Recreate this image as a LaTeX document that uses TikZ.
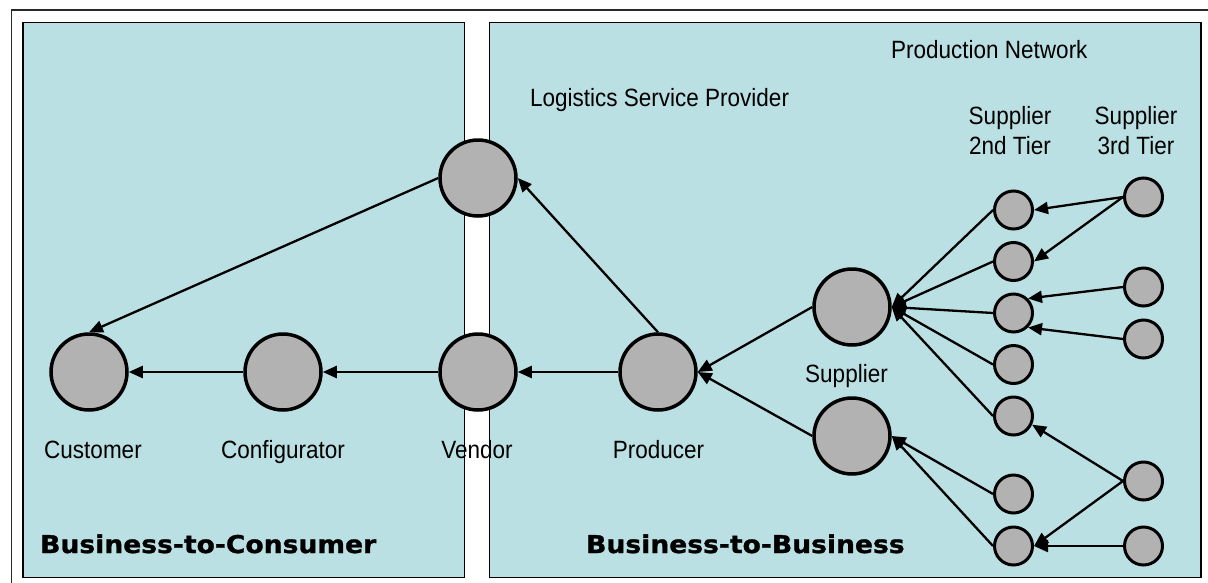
\documentclass[tikz,border=0pt]{standalone}
\usepackage{fontspec}
\setmainfont{Liberation Sans}[FakeStretch=0.9]
\newfontfamily\headfont{DejaVu Sans}[FakeStretch=1.085, BoldFeatures={FakeBold=1.2}]
\usetikzlibrary{arrows.meta}

\definecolor{panelfill}{RGB}{187,224,227}
\definecolor{nodegray}{RGB}{178,178,178}
\definecolor{framegray}{RGB}{40,40,40}

\tikzset{
  panel/.style={draw=black, line width=1.3pt, fill=panelfill},
  bignode/.style={circle, draw=black, fill=nodegray, line width=3.5pt,
                  minimum size=76pt, inner sep=0pt},
  smallnode/.style={circle, draw=black, fill=nodegray, line width=3pt,
                    minimum size=38pt, inner sep=0pt},
  flow/.style={line width=2.3pt, -{Triangle[length=14pt,width=12pt]}},
  lbl/.style={font=\fontsize{25pt}{30pt}\selectfont, inner sep=0pt, anchor=base},
  headlbl/.style={font=\fontsize{24.5pt}{29pt}\headfont\bfseries, inner sep=0pt,
                  anchor=base west},
}

\begin{document}
\begin{tikzpicture}[x=1pt, y=-1pt]
  \clip (0,0) rectangle (1208,582);
  \useasboundingbox (0,0) rectangle (1208,582);

  % outer frame and the two market panels
  \draw[framegray, line width=1.6pt] (11.5,10) rectangle (1220,600);
  \draw[panel] (23,22.7) rectangle (464.5,577.5);
  \draw[panel] (489.5,22.7) rectangle (1201,577.5);

  % main chain
  \node[bignode] (customer) at (89,372) {};
  \node[bignode] (config)   at (283,372) {};
  \node[bignode] (vendor)   at (478,372) {};
  \node[bignode] (producer) at (658,372) {};
  \node[bignode] (lsp)      at (478,178) {};
  \node[bignode] (suptop)   at (852,307) {};
  \node[bignode] (supbot)   at (852,436) {};

  % second tier suppliers
  \node[smallnode] (t2a) at (1013.5,210) {};
  \node[smallnode] (t2b) at (1013.5,261.5) {};
  \node[smallnode] (t2c) at (1013.5,313) {};
  \node[smallnode] (t2d) at (1013.5,364.5) {};
  \node[smallnode] (t2e) at (1013.5,416) {};
  \node[smallnode] (t2f) at (1013.5,494) {};
  \node[smallnode] (t2g) at (1013.5,546) {};

  % third tier suppliers
  \node[smallnode] (t3a) at (1143.5,197) {};
  \node[smallnode] (t3b) at (1143.5,287) {};
  \node[smallnode] (t3c) at (1143.5,339) {};
  \node[smallnode] (t3d) at (1143.5,481) {};
  \node[smallnode] (t3e) at (1143.5,546) {};

  % material flow
  \draw[flow] (config.west)   -- (customer.east);
  \draw[flow] (vendor.west)   -- (config.east);
  \draw[flow] (producer.west) -- (vendor.east);
  \draw[flow] (lsp.west)      -- (customer.north);
  \draw[flow] (producer.north) -- (lsp.east);
  \draw[flow] (suptop.west)   -- (producer.east);
  \draw[flow] (supbot.west)   -- (producer.east);

  \foreach \n in {t2a,t2b,t2c,t2d,t2e}
    \draw[flow] (\n.west) -- (suptop.east);
  \draw[flow] (t2f.west) -- (supbot.east);
  \draw[flow] (t2g.west) -- (supbot.east);

  \draw[flow] (t3a.west) -- (t2a.east);
  \draw[flow] (t3a.west) -- (t2b.east);
  \draw[flow] (t3b.west) -- (t2c.north east);
  \draw[flow] (t3c.west) -- (t2c.south east);
  \draw[flow] (t3d.west) -- (t2e.-25);
  \draw[flow] (t3d.west) -- (t2g.east);
  \draw[flow] (t3e.west) -- (t2g.east);

  % labels
  \node[lbl, anchor=base west] (pnet) at (891,58) {Production Network};
  \node[lbl, anchor=base west] (lspl) at (530,106.5) {Logistics Service Provider};
  \node[lbl] (s2a) at (1010,124) {Supplier};
  \node[lbl] (s2b) at (1010,154) {2nd Tier};
  \node[lbl] (s3a) at (1136,124) {Supplier};
  \node[lbl] (s3b) at (1136,154) {3rd Tier};
  \node[lbl] (supl) at (846.5,382) {Supplier};
  \node[lbl] (custl) at (93,458) {Customer};
  \node[lbl] (confl) at (283,458) {Configurator};
  \node[lbl] (vendl) at (477,458) {Vendor};
  \node[lbl] (prodl) at (658.5,458) {Producer};

  \node[headlbl] (b2c) at (40,553) {Business-to-Consumer};
  \node[headlbl] (b2b) at (586,553) {Business-to-Business};
\end{tikzpicture}
\end{document}
